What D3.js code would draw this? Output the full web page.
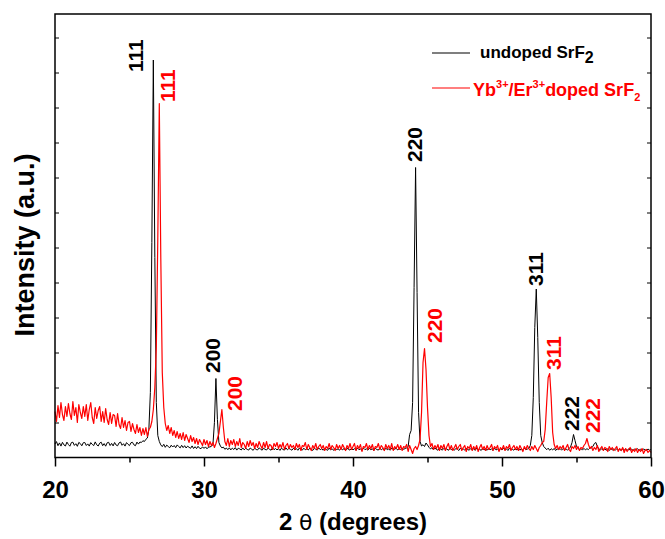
<!DOCTYPE html>
<html>
<head>
<meta charset="utf-8">
<script src="https://cdn.jsdelivr.net/npm/d3@7"></script>
<style>
  html, body { margin: 0; padding: 0; background: #fff; }
  svg { display: block; font-family: "Liberation Sans", Arial, Helvetica, sans-serif; }
</style>
</head>
<body>
<svg id="chart" width="665" height="539"></svg>
<script>
// ---------- DATA ----------
const thetaStart = 20;     // first 2θ sample (degrees)
const thetaStep = 0.1;     // sampling step (degrees)

// undoped SrF2 intensity (a.u.), one value per 0.1° from 20.0 to 60.0
const undoped = [
  13.5, 15.9, 11.8, 14.6, 11.4, 15.2, 12.6, 11.5, 15.4, 13.0,
  11.3, 14.9, 15.3, 12.1, 13.8, 11.2, 15.1, 13.9, 11.7, 14.8,
  15.0, 12.0, 13.6, 11.4, 14.9, 13.1, 11.9, 15.6, 12.7, 11.5,
  14.4, 15.3, 11.8, 13.9, 11.3, 14.7, 15.2, 12.0, 14.1, 11.6,
  15.0, 12.5, 11.7, 14.6, 15.5, 12.2, 13.8, 11.4, 14.9, 13.2,
  11.9, 14.8, 15.2, 12.6, 11.8, 15.4, 13.4, 15.5, 15.0, 16.8,
  16.0, 18.2, 19.5, 28, 65, 215, 397.5, 200, 55, 22,
  16, 12.6, 10.9, 13.2, 10.2, 12.4, 11.0, 9.8, 12.3, 10.5,
  12.0, 9.8, 12.6, 11.0, 9.6, 12.2, 9.9, 11.8, 9.5, 11.3,
  10.2, 9.2, 11.6, 9.0, 10.8, 8.9, 11.2, 9.3, 8.8, 10.7,
  9.1, 10.6, 8.7, 10.3, 10.6, 11.2, 13.0, 35, 79, 38,
  15, 11.5, 9.6, 10.4, 8.2, 9.5, 7.8, 9.7, 7.6, 9.4,
  8.0, 9.9, 7.4, 9.3, 8.6, 7.5, 9.6, 7.7, 9.2, 8.1,
  7.4, 9.5, 8.3, 7.2, 9.4, 8.0, 7.6, 9.6, 8.4, 7.3,
  9.3, 8.1, 7.5, 9.5, 8.2, 7.3, 9.7, 7.8, 9.0, 7.6,
  8.8, 7.1, 9.4, 8.0, 7.4, 9.6, 7.7, 9.1, 8.2, 7.3,
  9.2, 7.6, 8.9, 7.2, 9.5, 8.0, 7.4, 9.3, 7.7, 8.9,
  7.5, 9.4, 7.9, 7.1, 9.2, 8.3, 7.4, 9.6, 7.8, 8.7,
  7.3, 9.1, 8.0, 7.2, 9.5, 7.6, 8.8, 7.1, 9.3, 7.9,
  8.6, 7.3, 9.4, 7.7, 8.9, 7.0, 9.2, 8.1, 7.4, 9.0,
  7.6, 8.9, 7.2, 9.3, 7.8, 8.5, 7.1, 9.4, 7.9, 8.6,
  7.3, 9.2, 7.8, 8.7, 7.0, 9.1, 8.0, 7.4, 9.5, 7.7,
  8.8, 7.2, 9.3, 7.9, 8.5, 7.3, 9.6, 7.8, 8.4, 9.2,
  7.5, 8.9, 8.1, 9.3, 8.2, 9.0, 9.6, 10.8, 23, 27,
  55, 170, 290, 165, 45, 16, 11.5, 12.8, 11.0, 14.5,
  12.5, 10.2, 8.6, 9.8, 7.7, 9.4, 8.0, 7.3, 9.5, 8.2,
  7.4, 9.2, 7.9, 8.8, 7.1, 9.4, 7.8, 8.6, 7.2, 9.1,
  8.3, 7.0, 9.3, 7.7, 8.7, 7.2, 9.2, 8.0, 7.3, 9.0,
  7.6, 8.8, 7.1, 9.4, 7.9, 8.4, 7.0, 9.1, 7.7, 8.6,
  7.2, 9.0, 7.8, 8.5, 7.1, 9.3, 7.6, 8.3, 7.0, 8.9,
  7.5, 9.1, 7.4, 8.6, 7.0, 9.2, 7.8, 8.1, 7.3, 8.8,
  7.6, 9.0, 7.3, 8.7, 7.1, 9.2, 7.9, 8.4, 9.0, 12,
  22, 60, 130, 168.5, 120, 55, 22, 15, 11, 9.5,
  7.8, 9.3, 7.2, 8.8, 7.5, 9.1, 7.0, 8.6, 7.9, 8.9,
  7.3, 9.0, 7.6, 8.7, 7.2, 8.9, 10.5, 15, 23, 17,
  11, 9.2, 7.8, 8.9, 7.4, 9.1, 7.6, 8.8, 7.9, 9.5,
  9.6, 11, 14, 15, 11, 8.6, 7.4, 8.9, 7.2, 8.5,
  7.3, 8.7, 7.0, 9.0, 7.6, 8.4, 7.1, 8.8, 7.4, 8.2,
  7.0, 8.9, 7.5, 8.3, 7.1, 8.7, 7.3, 8.5, 7.0, 8.6,
  7.4, 8.8, 7.1, 8.2, 7.0, 8.6, 7.5, 7.2, 8.5, 7.3,
  8.0
];

// Yb3+/Er3+ doped SrF2 intensity (a.u.), same 2θ grid
const doped = [
  46, 36, 52, 40, 55, 43, 37, 51, 41, 54,
  44, 38, 56, 42, 50, 35, 53, 45, 39, 51,
  41, 53, 37, 48, 55, 40, 34, 50, 39, 47,
  51, 36, 46, 35, 49, 38, 33, 45, 34, 43,
  42, 31, 44, 33, 29, 40, 30, 37, 27, 35,
  36, 26, 34, 28, 24, 33, 25, 30, 22, 29,
  23, 30, 21, 28, 30, 36, 48, 70, 110, 220,
  354, 200, 85, 50, 34, 27, 32, 24, 30, 22,
  27, 20, 26, 19, 24, 18, 25, 17, 23, 19,
  15, 22, 16, 20, 14, 19, 13, 18, 15, 12,
  18, 13, 17, 11, 16, 12, 15, 10, 14, 19,
  24, 36, 48, 30, 16, 12, 19, 11, 17, 13,
  18, 11, 16, 12, 19, 10, 15, 13, 9, 16,
  11, 17, 12, 15, 9, 14, 10, 16, 12, 9,
  15, 10, 16, 9, 13, 12, 8, 14, 11, 15,
  9, 13, 10, 15, 8, 12, 14, 9, 13, 10,
  12, 8, 14, 10, 13, 7, 12, 11, 15, 8,
  13, 10, 7, 12, 9, 14, 8, 11, 13, 9,
  12, 7, 11, 9, 14, 8, 12, 10, 7, 13,
  9, 12, 8, 13, 10, 7, 12, 9, 14, 8,
  11, 14, 7, 12, 9, 13, 6, 11, 10, 14,
  8, 12, 9, 13, 7, 11, 10, 14, 8, 12,
  10, 7, 13, 9, 12, 8, 14, 7, 11, 9,
  13, 8, 12, 7, 11, 10, 13, 6, 12, 8,
  4, 9, 11, 8, 12, 18, 45, 95, 109, 88,
  50, 22, 11, 14, 8, 12, 9, 13, 7, 12,
  9, 13, 7, 11, 14, 8, 12, 7, 10, 13,
  8, 11, 13, 7, 10, 12, 6, 11, 9, 13,
  7, 11, 8, 12, 6, 10, 13, 8, 11, 7,
  12, 8, 10, 13, 7, 11, 9, 12, 6, 10,
  8, 12, 7, 11, 9, 13, 7, 10, 12, 8,
  11, 7, 12, 9, 6, 11, 8, 12, 9, 7,
  11, 8, 12, 9, 6, 10, 12, 15, 16, 28,
  55, 80, 84, 60, 25, 13, 9, 12, 8, 11,
  9, 12, 7, 10, 13, 8, 6, 11, 9, 12,
  8, 11, 7, 10, 9, 12, 14, 19, 13, 9,
  11, 7, 10, 8, 12, 6, 9, 11, 7, 10,
  9, 6, 11, 8, 10, 7, 9, 11, 6, 9,
  7, 10, 5, 9, 6, 8, 10, 5, 8, 6,
  9, 5, 8, 6, 9, 4, 7, 8, 5, 7,
  5
];

// peak (hkl) annotations: text, series, anchor 2θ, anchor intensity
const peakLabels = ["111", "111", "200", "200", "220", "220", "311", "311", "222", "222"];
const peakSeries = ["undoped", "doped", "undoped", "doped", "undoped", "doped", "undoped", "doped", "undoped", "doped"];
const peakLabelTheta = [25.91, 28.05, 31.07, 32.52, 44.66, 46.0, 52.75, 53.93, 55.17, 56.61];
const peakLabelInt   = [385.5, 355.5, 84.5, 46.5, 295.5, 114.5, 171.5, 87.5, 26.5, 24.5];

const xTicks = [20, 30, 40, 50, 60];
const xMinorTicks = [25, 35, 45, 55];
const yDomain = [0, 443.5];
const yTickStep = 35;

const colors = { undoped: "#000000", doped: "#ff0000" };

// ---------- CHART ----------
const svg = d3.select("#chart");
const L = 55, R = 651, T = 14, B = 457.5;

const x = d3.scaleLinear().domain([20, 60]).range([L, R]);
const y = d3.scaleLinear().domain(yDomain).range([B, T]);

const toPoints = arr => arr.map((v, i) => [thetaStart + i * thetaStep, v]);

const line = d3.line().x(d => x(d[0])).y(d => y(d[1]));

const plot = svg.append("g");
plot.append("path")
  .datum(toPoints(undoped))
  .attr("fill", "none").attr("stroke", colors.undoped).attr("stroke-width", 1)
  .attr("stroke-linejoin", "round")
  .attr("d", line);
plot.append("path")
  .datum(toPoints(doped))
  .attr("fill", "none").attr("stroke", colors.doped).attr("stroke-width", 1.2)
  .attr("stroke-linejoin", "round")
  .attr("d", line);

// frame
svg.append("rect")
  .attr("x", L).attr("y", T).attr("width", R - L).attr("height", B - T)
  .attr("fill", "none").attr("stroke", "#000").attr("stroke-width", 1.5);

// bottom axis
const xAxis = d3.axisBottom(x).tickValues(xTicks).tickSize(9).tickPadding(14).tickFormat(d3.format("d"));
const gx = svg.append("g").attr("transform", `translate(0,${B})`).call(xAxis);
gx.select(".domain").remove();
gx.selectAll(".tick line").attr("stroke-width", 1.5);
gx.selectAll(".tick text")
  .attr("font-size", 24).attr("font-weight", "bold")
  .attr("font-family", "'Liberation Sans', Arial, sans-serif").attr("fill", "#000");

const xMinor = d3.axisBottom(x).tickValues(xMinorTicks).tickSize(5).tickFormat("");
const gxm = svg.append("g").attr("transform", `translate(0,${B})`).call(xMinor);
gxm.select(".domain").remove();
gxm.selectAll(".tick line").attr("stroke-width", 1.5);

// inner y ticks, left and right (no labels)
const yTickVals = d3.range(yTickStep, yDomain[1], yTickStep);
const yLeft = d3.axisRight(y).tickValues(yTickVals).tickSize(4).tickFormat("");
const gyl = svg.append("g").attr("transform", `translate(${L},0)`).call(yLeft);
gyl.select(".domain").remove();
gyl.selectAll(".tick line").attr("stroke-width", 1);
const yRight = d3.axisLeft(y).tickValues(yTickVals).tickSize(4).tickFormat("");
const gyr = svg.append("g").attr("transform", `translate(${R},0)`).call(yRight);
gyr.select(".domain").remove();
gyr.selectAll(".tick line").attr("stroke-width", 1);

// axis titles
const xt = svg.append("text")
  .attr("x", (L + R) / 2).attr("y", 530)
  .attr("text-anchor", "middle").attr("font-size", 24).attr("font-weight", "bold");
xt.append("tspan").text("2 ");
xt.append("tspan").attr("font-family", "'DejaVu Sans', sans-serif").attr("font-weight", "normal").attr("font-size", 22).text("θ");
xt.append("tspan").text(" (degrees)");

svg.append("text")
  .attr("transform", `translate(34,${245}) rotate(-90)`)
  .attr("text-anchor", "middle").attr("font-size", 27).attr("font-weight", "bold")
  .text("Intensity (a.u.)");

// peak labels
peakLabels.forEach((lab, i) => {
  svg.append("text")
    .attr("transform", `translate(${x(peakLabelTheta[i])},${y(peakLabelInt[i])}) rotate(-90)`)
    .attr("font-size", 21).attr("font-weight", "bold")
    .attr("fill", colors[peakSeries[i]])
    .text(lab);
});

// legend
const lg = svg.append("g");
lg.append("line").attr("x1", 432).attr("x2", 470).attr("y1", 53).attr("y2", 53)
  .attr("stroke", colors.undoped).attr("stroke-width", 1.2);
const t1 = lg.append("text").attr("x", 480).attr("y", 58).attr("font-size", 17).attr("font-weight", "bold").attr("fill", colors.undoped);
t1.append("tspan").text("undoped SrF");
t1.append("tspan").attr("dy", 5).attr("font-size", 16).text("2");

lg.append("line").attr("x1", 432).attr("x2", 470).attr("y1", 88).attr("y2", 88)
  .attr("stroke", colors.doped).attr("stroke-width", 1.2);
const t2 = lg.append("text").attr("x", 473).attr("y", 96).attr("font-size", 18).attr("font-weight", "bold").attr("fill", colors.doped);
t2.append("tspan").text("Yb");
t2.append("tspan").attr("dy", -8).attr("font-size", 11).text("3+");
t2.append("tspan").attr("dy", 8).text("/Er");
t2.append("tspan").attr("dy", -8).attr("font-size", 11).text("3+");
t2.append("tspan").attr("dy", 8).text("doped SrF");
t2.append("tspan").attr("dy", 5).attr("font-size", 11).text("2");
</script>
</body>
</html>
